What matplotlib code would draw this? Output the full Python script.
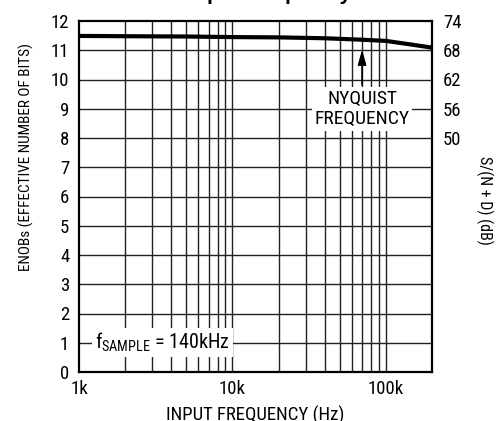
import matplotlib
matplotlib.use("Agg")
import matplotlib.pyplot as plt
from matplotlib import font_manager as fm

# ---- data ----
freq_hz = [1000, 2000, 5000, 10000, 20000, 40000, 70000, 100000, 140000, 200000]
enob = [11.49, 11.48, 11.47, 11.45, 11.44, 11.41, 11.36, 11.32, 11.21, 11.09]
left_ticks = [0, 1, 2, 3, 4, 5, 6, 7, 8, 9, 10, 11, 12]
right_tick_pos = [8, 9, 10, 11, 12]
right_tick_labels = ["50", "56", "62", "68", "74"]
x_ticks = [1000, 10000, 100000]
x_tick_labels = ["1k", "10k", "100k"]
minor_grid = [2000, 3000, 4000, 5000, 6000, 7000, 8000, 9000,
              20000, 30000, 40000, 50000, 60000, 70000, 80000, 90000]
nyquist_hz = 70000

names = {f.name for f in fm.fontManager.ttflist}
prefs = ["Liberation Sans Narrow", "Nimbus Sans Narrow", "Arial Narrow",
         "Roboto Condensed", "Archivo Narrow", "Barlow Semi Condensed"]
FONT = next((p for p in prefs if p in names), "Liberation Sans")
plt.rcParams["font.family"] = [FONT, "DejaVu Sans"]
plt.rcParams["mathtext.fontset"] = "custom"
plt.rcParams["mathtext.rm"] = FONT
plt.rcParams["mathtext.it"] = FONT

W, H = 502, 421
fig = plt.figure(figsize=(W / 100, H / 100), dpi=100)
ax = fig.add_axes([79 / W, 1 - 372 / H, 353 / W, 351 / H])

ax.set_xscale("log")
ax.set_xlim(1000, 200000)
ax.set_ylim(0, 12)

for g in minor_grid + x_ticks[1:]:
    ax.axvline(g, color="#222222", lw=1.0, zorder=1)
for t in left_ticks[1:-1]:
    ax.axhline(t, color="#222222", lw=1.0, zorder=1)

ax.plot(freq_hz, enob, color="black", lw=3.0, zorder=3, solid_capstyle="butt")

ax.set_xticks(x_ticks)
ax.set_xticklabels(x_tick_labels)
ax.xaxis.set_minor_locator(matplotlib.ticker.NullLocator())
ax.set_yticks(left_ticks)
ax.tick_params(axis="both", length=0, labelsize=13.5, pad=7)
ax.tick_params(axis="x", pad=6)

for s in ax.spines.values():
    s.set_linewidth(1.6)
    s.set_color("black")
    s.set_zorder(4)

ax2 = ax.twinx()
ax2.set_ylim(0, 12)
ax2.set_yticks(right_tick_pos)
ax2.set_yticklabels(right_tick_labels)
ax2.tick_params(axis="y", length=0, labelsize=13.5, pad=8)
for s in ax2.spines.values():
    s.set_visible(False)

fig.text(255 / W, 1 - 415 / H, "INPUT FREQUENCY (Hz)", fontsize=13.5,
         ha="center", va="center")
fig.text(26 / W, 1 - 157 / H, "ENOBs (EFFECTIVE NUMBER OF BITS)", rotation=90,
         fontsize=11, ha="center", va="center")
fig.text(485 / W, 1 - 200 / H, "S/(N + D) (dB)", rotation=-90,
         fontsize=11.5, ha="center", va="center")

fig.text(82 / W, 1.0, "ENOBs vs Input Frequency", fontsize=15, fontweight="bold",
         fontfamily="Liberation Sans", ha="left", va="baseline")

ax.text(1270, 1.0, r"f$_{\rm SAMPLE}$ = 140kHz", fontsize=14.5, ha="left", va="center",
        zorder=5, bbox=dict(facecolor="white", edgecolor="none", pad=2))

ax.annotate("", xy=(nyquist_hz, 11.12), xytext=(nyquist_hz, 9.72),
            arrowprops=dict(arrowstyle="-|>,head_length=0.9,head_width=0.25",
                            color="black", lw=1.2), zorder=5)
ax.text(nyquist_hz, 8.99, "NYQUIST\nFREQUENCY", fontsize=14, ha="center", va="center",
        linespacing=1.15, zorder=5, bbox=dict(facecolor="white", edgecolor="none", pad=2))

fig.savefig("out.png", dpi=100)
